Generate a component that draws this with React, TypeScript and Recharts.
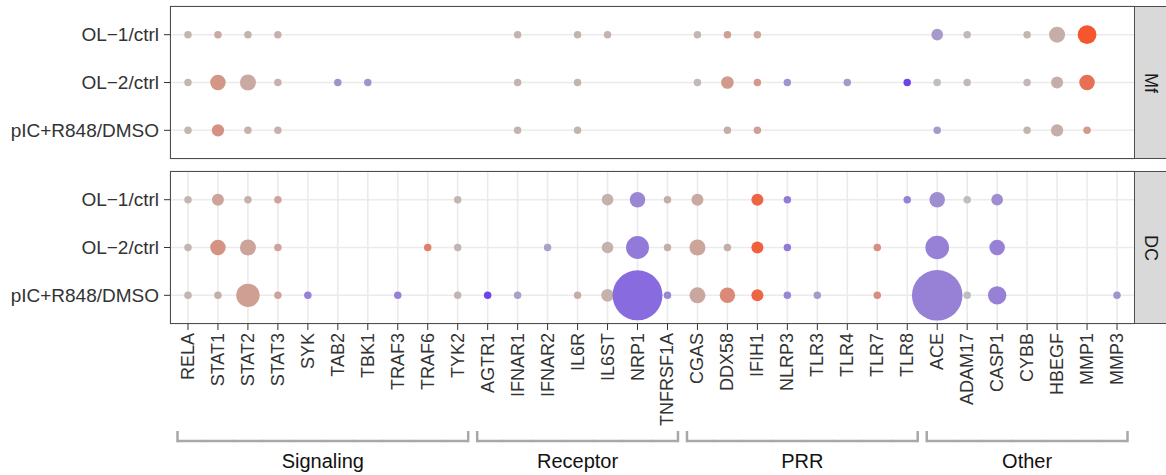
import { CartesianGrid, Scatter, ScatterChart, XAxis, YAxis } from "recharts"

const genes = [
  "RELA", "STAT1", "STAT2", "STAT3", "SYK", "TAB2", "TBK1", "TRAF3", "TRAF6", "TYK2",
  "AGTR1", "IFNAR1", "IFNAR2", "IL6R", "IL6ST", "NRP1", "TNFRSF1A",
  "CGAS", "DDX58", "IFIH1", "NLRP3", "TLR3", "TLR4", "TLR7", "TLR8",
  "ACE", "ADAM17", "CASP1", "CYBB", "HBEGF", "MMP1", "MMP3",
]
const groupNames = ["Signaling", "Receptor", "PRR", "Other"]
const groupCounts = [10, 7, 8, 7]
const conditions = ["OL\u22121/ctrl", "OL\u22122/ctrl", "pIC+R848/DMSO"]

// [gene, fold change (colour), significance (area)]
type Pt = [string, number, number]

const mfOl1: Pt[] = [
  ["RELA", 0.08, 3.5], ["STAT1", 0.2, 3.5], ["STAT2", 0.1, 3.5], ["STAT3", 0.12, 3.5],
  ["IFNAR1", 0.1, 3.5], ["IL6R", 0.1, 3.5], ["IL6ST", 0.1, 3.5], ["CGAS", 0.08, 3.5],
  ["DDX58", 0.3, 3.5], ["IFIH1", 0.2, 3.5], ["ACE", -0.3, 8.5], ["ADAM17", 0.05, 3.5],
  ["CYBB", 0.08, 3.5], ["HBEGF", 0.15, 16], ["MMP1", 1.0, 22],
]
const mfOl2: Pt[] = [
  ["RELA", 0.08, 3.5], ["STAT1", 0.38, 15], ["STAT2", 0.2, 16], ["STAT3", 0.12, 3.5],
  ["TAB2", -0.35, 3.5], ["TBK1", -0.35, 3.5], ["IFNAR1", 0.1, 3.5], ["IL6R", 0.1, 3.5],
  ["CGAS", 0.05, 3.5], ["DDX58", 0.35, 10], ["IFIH1", 0.35, 3.5], ["NLRP3", -0.35, 3.5],
  ["TLR4", -0.3, 3.5], ["TLR8", -1, 3.5], ["ACE", 0, 3.5], ["ADAM17", 0.05, 3.5],
  ["CYBB", 0.05, 3.5], ["HBEGF", 0.15, 9], ["MMP1", 0.75, 15],
]
const mfPic: Pt[] = [
  ["RELA", 0.08, 3.5], ["STAT1", 0.42, 9.5], ["STAT2", 0.12, 3.5], ["STAT3", 0.12, 3.5],
  ["IFNAR1", 0.1, 3.5], ["IL6R", 0.1, 3.5], ["DDX58", 0.15, 3.5], ["IFIH1", 0.3, 3.5],
  ["ACE", -0.3, 3.5], ["CYBB", 0.1, 3.5], ["HBEGF", 0.15, 9.5], ["MMP1", 0.35, 3.5],
]
const dcOl1: Pt[] = [
  ["RELA", 0.08, 3.5], ["STAT1", 0.25, 9], ["STAT2", 0.12, 3.5], ["STAT3", 0.25, 3.5],
  ["TYK2", 0.08, 3.5], ["IL6ST", 0.12, 8.5], ["NRP1", -0.45, 15], ["TNFRSF1A", 0.15, 3.5],
  ["CGAS", 0.2, 9], ["IFIH1", 0.85, 9], ["NLRP3", -0.55, 3.5], ["TLR8", -0.5, 3.5],
  ["ACE", -0.4, 15], ["ADAM17", 0, 3.5], ["CASP1", -0.4, 8.5],
]
const dcOl2: Pt[] = [
  ["RELA", 0.08, 3.5], ["STAT1", 0.4, 15], ["STAT2", 0.25, 16], ["STAT3", 0.25, 3.5],
  ["TRAF6", 0.6, 3.5], ["TYK2", 0.08, 3.5], ["IFNAR2", -0.25, 3.5], ["IL6ST", 0.12, 8.5],
  ["NRP1", -0.55, 33], ["TNFRSF1A", 0.15, 3.5], ["CGAS", 0.25, 16], ["DDX58", 0.15, 3.5],
  ["IFIH1", 0.9, 9], ["NLRP3", -0.55, 3.5], ["TLR7", 0.45, 3.5], ["ACE", -0.5, 35],
  ["CASP1", -0.5, 15],
]
const dcPic: Pt[] = [
  ["RELA", 0.08, 3.5], ["STAT1", 0.15, 3.5], ["STAT2", 0.3, 34], ["STAT3", 0.25, 3.5],
  ["SYK", -0.5, 3.5], ["TRAF3", -0.5, 3.5], ["TYK2", 0.08, 3.5], ["AGTR1", -1, 3.5],
  ["IFNAR1", -0.25, 3.5], ["IL6R", 0.15, 3.5], ["IL6ST", 0.12, 10], ["NRP1", -0.68, 156],
  ["TNFRSF1A", -0.45, 3.5], ["CGAS", 0.22, 16], ["DDX58", 0.5, 15], ["IFIH1", 0.85, 9],
  ["NLRP3", -0.45, 3.5], ["TLR3", -0.3, 3.5], ["TLR7", 0.45, 3.5], ["ACE", -0.5, 160],
  ["ADAM17", 0, 3.5], ["CASP1", -0.5, 21], ["MMP3", -0.35, 3.5],
]

const W = 1166
const LEFT = 170
const STRIP = 31
const PLOT_W = W - LEFT - STRIP
const UNIT = PLOT_W / (genes.length - 1 + 1.2)
const FONT = "'Liberation Sans', Arial, sans-serif"

const LOW = [110, 68, 238]
const MID = [190, 190, 190]
const HIGH = [245, 86, 46]

function colorFor(v: number) {
  const t = Math.min(1, Math.abs(v))
  const end = v < 0 ? LOW : HIGH
  const c = MID.map((m, k) => Math.round(m + (end[k] - m) * t))
  return `rgb(${c[0]},${c[1]},${c[2]})`
}

function toRows(lists: Pt[][]) {
  return lists.map((list, row) =>
    list.map(([g, fc, sig]) => ({ x: genes.indexOf(g), y: row, fc, sig }))
  )
}

const Dot = (props: any) => {
  const { cx, cy, payload } = props
  if (cx == null || cy == null) return <g />
  return <circle cx={cx} cy={cy} r={2 * Math.sqrt(payload.sig)} fill={colorFor(payload.fc)} />
}

function groupOf(i: number) {
  let start = 0
  for (let g = 0; g < groupCounts.length; g++) {
    if (i < start + groupCounts[g]) return { g, start, end: start + groupCounts[g] - 1 }
    start += groupCounts[g]
  }
  return { g: 0, start: 0, end: 0 }
}

const GeneTick = (props: any) => {
  const { x, y, payload } = props
  const i = payload.value
  const { g, start, end } = groupOf(i)
  const mid = (start + end) / 2
  const x1 = i === start ? x - UNIT / 2 + 4.5 : x - UNIT / 2 - 0.5
  const x2 = i === end ? x + UNIT / 2 - 4.5 : x + UNIT / 2 + 0.5
  const by = y + 108
  return (
    <g>
      <text
        x={x}
        y={y}
        transform={`rotate(-90, ${x}, ${y})`}
        textAnchor="end"
        dominantBaseline="central"
        fontSize={18}
        fontFamily={FONT}
        fill="#333"
      >
        {genes[i]}
      </text>
      <line x1={x1} x2={x2} y1={by} y2={by} stroke="#a8a8a8" strokeWidth={2.5} />
      {i === start && <line x1={x1} x2={x1} y1={by - 10} y2={by + 1.25} stroke="#a8a8a8" strokeWidth={2.5} />}
      {i === end && <line x1={x2} x2={x2} y1={by - 10} y2={by + 1.25} stroke="#a8a8a8" strokeWidth={2.5} />}
      {i === Math.floor(mid) && (
        <text
          x={x + (mid - Math.floor(mid)) * UNIT}
          y={by + 20}
          textAnchor="middle"
          dominantBaseline="central"
          fontSize={20}
          fontFamily={FONT}
          fill="#111"
        >
          {groupNames[g]}
        </text>
      )}
    </g>
  )
}

function Panel({ lists, label, top, height, axisH }: { lists: Pt[][]; label: string; top: number; height: number; axisH: number }) {
  const rows = toRows(lists)
  const plotH = height - 6 - (axisH > 0 ? axisH : 6)
  return (
    <div style={{ position: "absolute", left: 0, top, width: W, height }}>
      <ScatterChart width={W} height={height} margin={{ top: 6, right: STRIP, bottom: axisH > 0 ? 0 : 6, left: 0 }}>
        <CartesianGrid stroke="#ebebeb" strokeWidth={1.6} />
        <XAxis
          type="number"
          dataKey="x"
          domain={[-0.6, genes.length - 0.4]}
          allowDataOverflow
          ticks={genes.map((_, i) => i)}
          interval={0}
          height={axisH}
          axisLine={false}
          tickLine={axisH > 0 ? { stroke: "#333" } : false}
          tickSize={6}
          tickMargin={3}
          tick={axisH > 0 ? <GeneTick /> : false}
        />
        <YAxis
          type="number"
          dataKey="y"
          domain={[-0.6, 2.6]}
          allowDataOverflow
          reversed
          ticks={[0, 1, 2]}
          interval={0}
          width={LEFT}
          axisLine={false}
          tickLine={{ stroke: "#333" }}
          tickSize={6}
          tickMargin={5}
          tickFormatter={(v: number) => conditions[v]}
          tick={{ fontSize: 19, fontFamily: FONT, fill: "#333" }}
        />
        {rows.map((data, k) => (
          <Scatter key={k} data={data} shape={<Dot />} isAnimationActive={false} />
        ))}
      </ScatterChart>
      <div
        style={{
          position: "absolute", left: LEFT, top: 6, width: PLOT_W, height: plotH,
          border: "1.5px solid #4d4d4d", boxSizing: "border-box", pointerEvents: "none",
        }}
      />
      <div
        style={{
          position: "absolute", left: LEFT + PLOT_W - 1, top: 6, width: STRIP + 1, height: plotH,
          background: "#d9d9d9", borderTop: "1.5px solid #4d4d4d", borderBottom: "1.5px solid #4d4d4d",
          borderLeft: "1.5px solid #4d4d4d", boxSizing: "border-box",
          display: "flex", alignItems: "center", justifyContent: "center",
        }}
      >
        <span style={{ writingMode: "vertical-rl", fontSize: 18, fontFamily: FONT, color: "#1a1a1a" }}>{label}</span>
      </div>
    </div>
  )
}

export default function App() {
  return (
    <div style={{ position: "absolute", left: 0, top: 0, width: W, height: 475, background: "#fff" }}>
      <Panel lists={[mfOl1, mfOl2, mfPic]} label="Mf" top={0} height={165} axisH={0} />
      <Panel lists={[dcOl1, dcOl2, dcPic]} label="DC" top={165} height={310} axisH={151} />
    </div>
  )
}
